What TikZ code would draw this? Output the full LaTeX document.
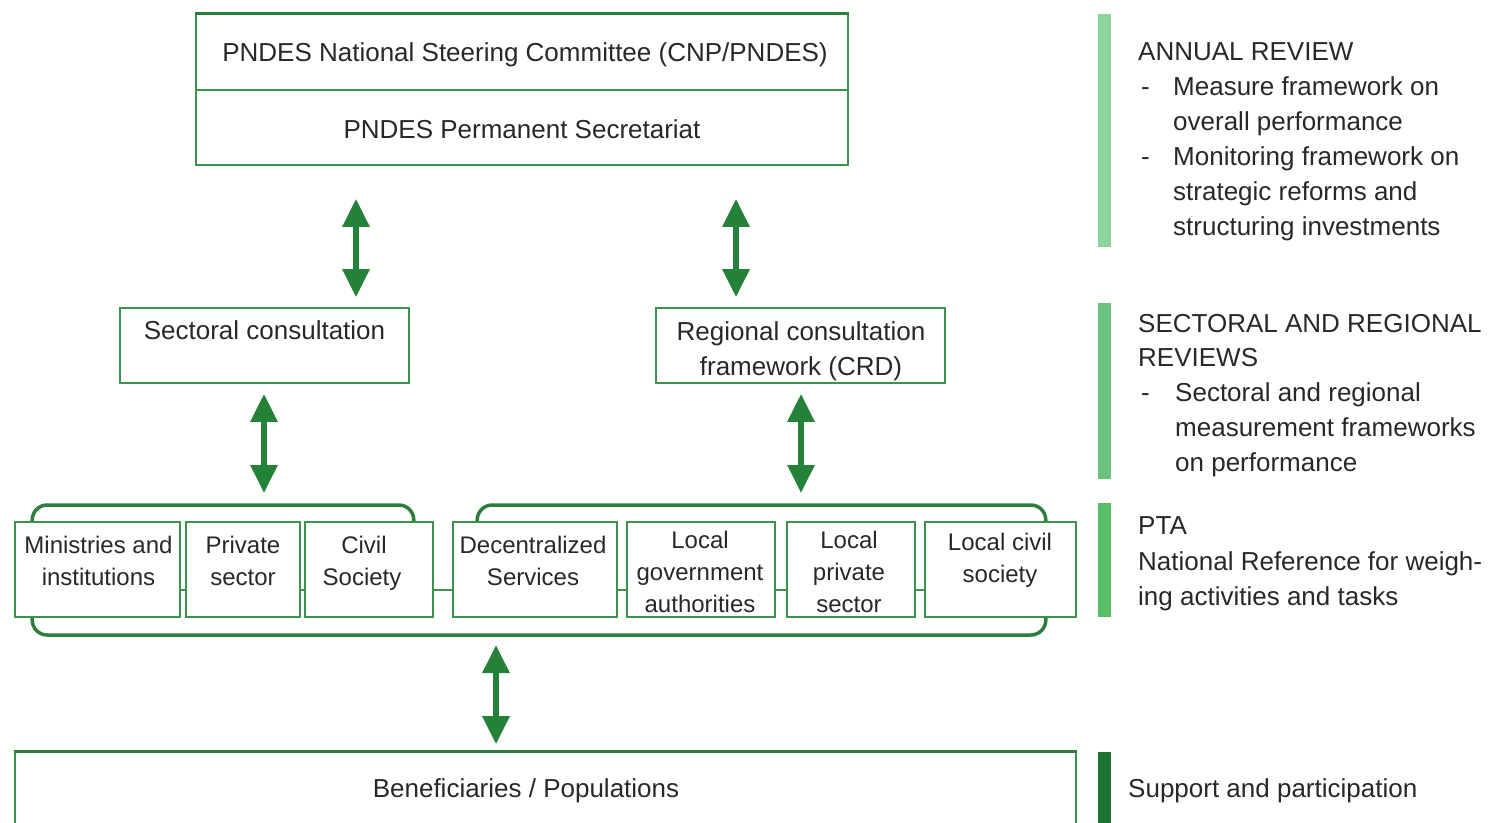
\documentclass[tikz,border=0pt]{standalone}
\usepackage{fontspec}
\setmainfont{Liberation Sans}
\usetikzlibrary{arrows.meta}
\definecolor{boxg}{RGB}{60,145,75}
\definecolor{arrg}{RGB}{35,130,55}
\definecolor{brkg}{RGB}{45,125,60}
\definecolor{ink}{RGB}{40,40,40}
\definecolor{bara}{RGB}{140,210,155}
\definecolor{barb}{RGB}{105,195,125}
\definecolor{barc}{RGB}{90,190,105}
\definecolor{bard}{RGB}{30,115,50}
\begin{document}
\begin{tikzpicture}[x=1pt,y=-1pt,
 boxnode/.style={draw=boxg, line width=1.6pt, inner sep=0pt},
 txt/.style={font=\fontsize{26}{32}\selectfont, text=ink, inner sep=0pt, anchor=base},
 rowtxt/.style={font=\fontsize{24}{32}\selectfont, text=ink, inner sep=0pt, anchor=base},
 side/.style={font=\fontsize{26}{35}\selectfont, text=ink, inner sep=0pt, anchor=base west},
 dbl/.style={draw=arrg, line width=6pt, {Triangle[width=26pt,length=28pt]}-{Triangle[width=26pt,length=28pt]}},
 brk/.style={draw=brkg, line width=3.5pt, rounded corners=15pt},
 link/.style={draw=boxg, line width=2.5pt},
 topline/.style={draw=brkg, line width=3pt},
 bar/.style={draw=none, inner sep=0pt, minimum width=13pt}
]
\useasboundingbox (0,0) rectangle (1498,822);

% top boxes
\node[boxnode, minimum width=652pt, minimum height=76pt] (cnp) at (522,52) {};
\node[boxnode, minimum width=652pt, minimum height=75pt] (sec) at (522,127.5) {};
\draw[topline] (cnp.north west) -- (cnp.north east);
\node[txt] (cnpt) at (525,61) {PNDES National Steering Committee (CNP/PNDES)};
\node[txt] (sect) at (522,138) {PNDES Permanent Secretariat};

% consultation boxes
\node[boxnode, minimum width=289pt, minimum height=75pt] (scb) at (264.5,345.5) {};
\node[boxnode, minimum width=289pt, minimum height=75pt] (rcb) at (800.5,345.5) {};
\node[txt] (sct) at (264.5,339) {Sectoral consultation};
\node[txt] (rct1) at (801,340) {Regional consultation};
\node[txt] (rct2) at (801,375) {framework (CRD)};

% bracket coordinates
\coordinate (bkL) at (264,505);
\coordinate (bkR) at (801,505);
\coordinate (bkB) at (496,635);
\coordinate (xa) at (356,0);
\coordinate (xb) at (736,0);

% row boxes
\node[boxnode, minimum width=165pt, minimum height=95pt] (minb) at (97.5,569.5) {};
\node[boxnode, minimum width=114pt, minimum height=95pt] (privb) at (243,569.5) {};
\node[boxnode, minimum width=128pt, minimum height=95pt] (civb) at (369,569.5) {};
\node[boxnode, minimum width=164pt, minimum height=95pt] (decb) at (535,569.5) {};
\node[boxnode, minimum width=148pt, minimum height=95pt] (lgab) at (701,569.5) {};
\node[boxnode, minimum width=128pt, minimum height=95pt] (lpsb) at (851,569.5) {};
\node[boxnode, minimum width=151pt, minimum height=95pt] (lcsb) at (1000.5,569.5) {};

% brackets
\draw[brk] ([xshift=18pt]minb.north west) |- (bkL) -| ([xshift=-20pt]civb.north east);
\draw[brk] ([xshift=25pt]decb.north west) |- (bkR) -| ([xshift=-31pt]lcsb.north east);
\draw[brk] ([xshift=18pt]minb.south west) |- (bkB) -| ([xshift=-31pt]lcsb.south east);

% links between row boxes
\draw[link] ([yshift=-20.5pt]minb.east) -- ([yshift=-20.5pt]privb.west);
\draw[link] ([yshift=-20.5pt]privb.east) -- ([yshift=-20.5pt]civb.west);
\draw[link] ([yshift=-20.5pt]civb.east) -- ([yshift=-20.5pt]decb.west);
\draw[link] ([yshift=-20.5pt]decb.east) -- ([yshift=-20.5pt]lgab.west);
\draw[link] ([yshift=-20.5pt]lgab.east) -- ([yshift=-20.5pt]lpsb.west);
\draw[link] ([yshift=-20.5pt]lpsb.east) -- ([yshift=-20.5pt]lcsb.west);

% row texts
\node[rowtxt] (mint1) at (98.5,553) {Ministries and};
\node[rowtxt] (mint2) at (98.5,585) {institutions};
\node[rowtxt] (privt1) at (243,553) {Private};
\node[rowtxt] (privt2) at (243,585) {sector};
\node[rowtxt] (civt1) at (364,553) {Civil};
\node[rowtxt] (civt2) at (362,585) {Society};
\node[rowtxt] (dect1) at (533,553) {Decentralized};
\node[rowtxt] (dect2) at (533,585) {Services};
\node[rowtxt] (lgat1) at (700,548) {Local};
\node[rowtxt] (lgat2) at (700,580) {government};
\node[rowtxt] (lgat3) at (700,612) {authorities};
\node[rowtxt] (lpst1) at (849,548) {Local};
\node[rowtxt] (lpst2) at (849,580) {private};
\node[rowtxt] (lpst3) at (849,612) {sector};
\node[rowtxt] (lcst1) at (1000,550) {Local civil};
\node[rowtxt] (lcst2) at (1000,582) {society};

% beneficiaries
\node[boxnode, minimum width=1061pt, minimum height=100pt] (ben) at (545.5,802) {};
\draw[topline] (ben.north west) -- (ben.north east);
\node[txt] (bent) at (526,797) {Beneficiaries / Populations};

% arrows
\draw[dbl, shorten <=33pt, shorten >=10pt] (sec.south -| xa) -- (scb.north -| xa);
\draw[dbl, shorten <=33pt, shorten >=10pt] (sec.south -| xb) -- (rcb.north -| xb);
\draw[dbl, shorten <=10pt, shorten >=12pt] (scb.south -| bkL) -- (bkL);
\draw[dbl, shorten <=10pt, shorten >=12pt] (rcb.south -| bkR) -- (bkR);
\draw[dbl, shorten <=10pt, shorten >=7pt] (bkB) -- (ben.north -| bkB);

% side bars
\node[bar, fill=bara, minimum height=233pt] (bar1) at (1104,130.5) {};
\node[bar, fill=barb, minimum height=176pt] (bar2) at (1104,391) {};
\node[bar, fill=barc, minimum height=114pt] (bar3) at (1104,560) {};
\node[bar, fill=bard, minimum height=78pt] (bar4) at (1104,791) {};

% side texts
\node[side] (ar0) at (1138,60) {ANNUAL REVIEW};
\node[side] (ar1d) at (1141,95) {-};
\node[side] (ar1) at (1173,95) {Measure framework on};
\node[side] (ar2) at (1173,130) {overall performance};
\node[side] (ar3d) at (1141,165) {-};
\node[side] (ar3) at (1173,165) {Monitoring framework on};
\node[side] (ar4) at (1173,200) {strategic reforms and};
\node[side] (ar5) at (1173,235) {structuring investments};

\node[side] (sr0) at (1138,332) {SECTORAL AND REGIONAL};
\node[side] (sr1) at (1138,366) {REVIEWS};
\node[side] (sr2d) at (1141,401) {-};
\node[side] (sr2) at (1175,401) {Sectoral and regional};
\node[side] (sr3) at (1175,436) {measurement frameworks};
\node[side] (sr4) at (1175,471) {on performance};

\node[side] (pt0) at (1138,534) {PTA};
\node[side] (pt1) at (1138,570) {National Reference for weigh-};
\node[side] (pt2) at (1138,605) {ing activities and tasks};

\node[side] (sp) at (1128,797) {Support and participation};
\end{tikzpicture}
\end{document}
